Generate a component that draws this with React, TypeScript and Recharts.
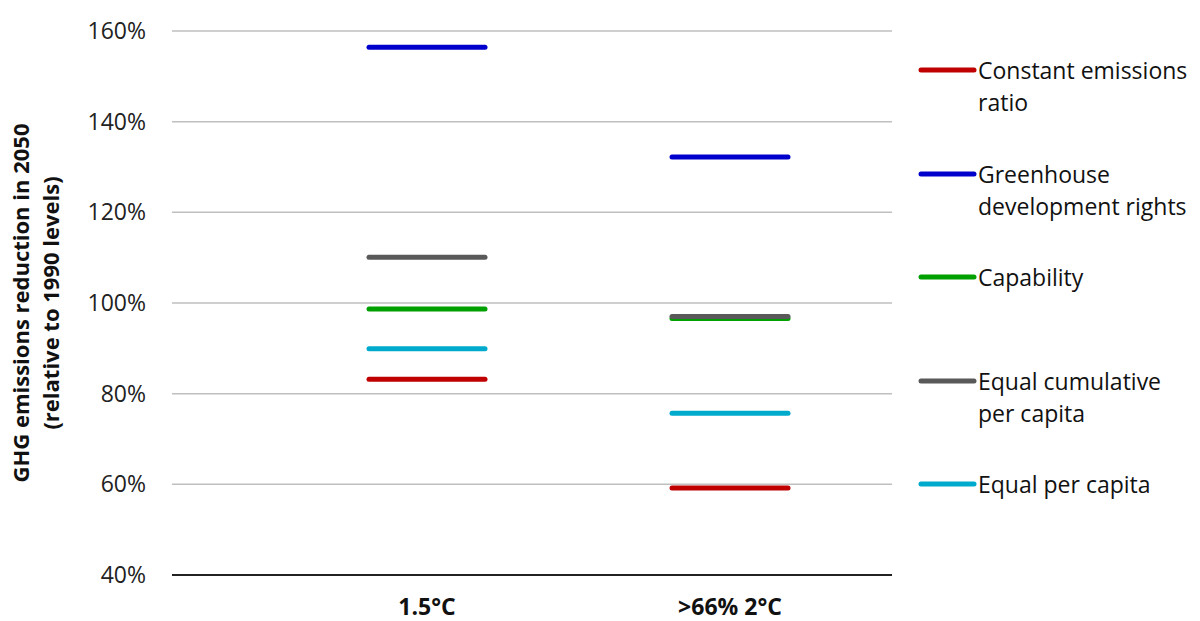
import { CartesianGrid, ComposedChart, Scatter, XAxis, YAxis } from "recharts";

const categories = ["1.5°C", ">66% 2°C"];

const constantRatio = [83.2, 59.2];
const greenhouseRights = [156.4, 132.2];
const capability = [98.7, 96.6];
const equalCumulative = [110.1, 97.0];
const equalPerCapita = [89.9, 75.7];

const yTicks = [40, 60, 80, 100, 120, 140, 160];

const FONT = "'Open Sans', 'Noto Sans', sans-serif";

const series = [
  { key: "constant", name: "Constant emissions\nratio", color: "#C00000", values: constantRatio },
  { key: "gdr", name: "Greenhouse\ndevelopment rights", color: "#0000CC", values: greenhouseRights },
  { key: "capability", name: "Capability", color: "#00A000", values: capability },
  { key: "cumulative", name: "Equal cumulative\nper capita", color: "#595959", values: equalCumulative },
  { key: "perCapita", name: "Equal per capita", color: "#00AACC", values: equalPerCapita },
];

const data = categories.map((cat, i) => {
  const row: Record<string, string | number> = { cat };
  for (const s of series) row[s.key] = s.values[i];
  return row;
});

const dash = (color: string) => (props: any) => {
  const { cx, cy } = props;
  if (cx == null || cy == null) return <g />;
  return (
    <line x1={cx - 58} x2={cx + 58} y1={cy} y2={cy} stroke={color} strokeWidth={5} strokeLinecap="round" />
  );
};

function LegendBox() {
  return (
    <div style={{ position: "absolute", left: 916, top: 54, width: 284, fontFamily: FONT, fontSize: 23, color: "#111" }}>
      {series.map((s) => (
        <div key={s.key} style={{ height: 103.5, display: "flex", alignItems: "flex-start" }}>
          <svg width={62} height={32} style={{ flex: "none" }}>
            <line x1={5} x2={58} y1={16} y2={16} stroke={s.color} strokeWidth={5} strokeLinecap="round" />
          </svg>
          <div style={{ whiteSpace: "pre-line", lineHeight: "32px" }}>{s.name}</div>
        </div>
      ))}
    </div>
  );
}

function YLabel(props: any) {
  const { viewBox } = props;
  const cy = viewBox.y + viewBox.height / 2;
  return (
    <g fontFamily={FONT} fontWeight={700} fontSize={22} fill="#111" textAnchor="middle">
      <text transform={`translate(20, ${cy}) rotate(-90)`} dominantBaseline="central">
        GHG emissions reduction in 2050
      </text>
      <text transform={`translate(50, ${cy}) rotate(-90)`} dominantBaseline="central">
        (relative to 1990 levels)
      </text>
    </g>
  );
}

export default function App() {
  return (
    <div style={{ position: "absolute", left: 0, top: 0, width: 1200, height: 621, background: "#fff" }}>
      <ComposedChart width={1200} height={621} data={data} margin={{ top: 31, right: 308, bottom: 16, left: 0 }}>
        <CartesianGrid vertical={false} stroke="#BFBFBF" strokeWidth={1.5} />
        <XAxis
          dataKey="cat"
          type="category"
          height={30}
          padding={{ left: 255, right: 162 }}
          tickLine={false}
          tickSize={0}
          tickMargin={24}
          axisLine={{ stroke: "#222", strokeWidth: 2 }}
          tick={{ fontFamily: FONT, fontWeight: 700, fontSize: 23, fill: "#111" }}
        />
        <YAxis
          type="number"
          domain={[40, 160]}
          ticks={yTicks}
          width={172}
          axisLine={false}
          tickLine={false}
          tickSize={0}
          tickMargin={26}
          tickFormatter={(v) => `${v}%`}
          tick={{ fontFamily: FONT, fontSize: 23, fill: "#222" }}
          label={<YLabel />}
        />
        {series.map((s) => (
          <Scatter
            key={s.key}
            dataKey={s.key}
            name={s.name}
            fill={s.color}
            shape={dash(s.color)}
            isAnimationActive={false}
          />
        ))}
      </ComposedChart>
      <LegendBox />
    </div>
  );
}
